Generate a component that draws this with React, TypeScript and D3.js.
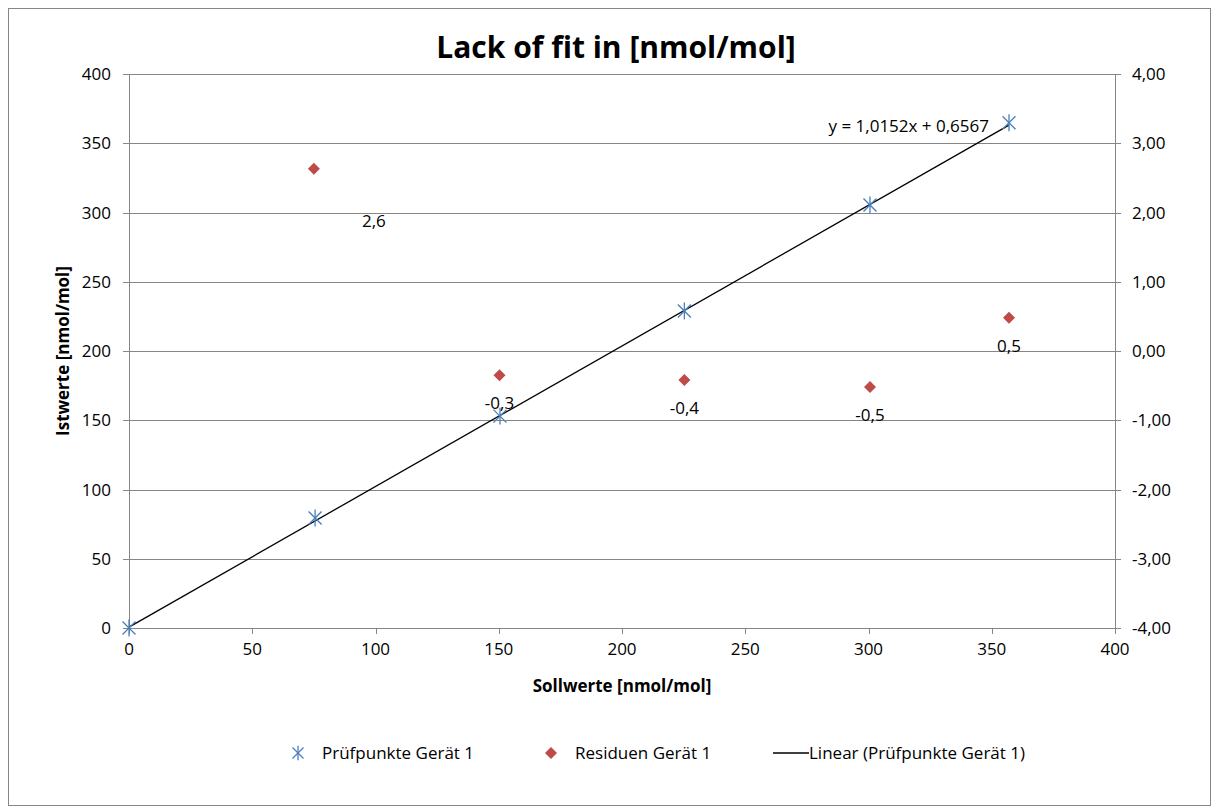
import React from "react";
import * as d3 from "d3";

const pointsX = [0, 75.5, 150.5, 225.3, 300.6, 357];
const pointsY = [0, 79.4, 153, 228.9, 305.4, 364.8];
const residX = [75, 150.3, 225.3, 300.6, 357];
const residY = [2.63, -0.35, -0.42, -0.52, 0.48];
const residLabels = ["2,6", "-0,3", "-0,4", "-0,5", "0,5"];
const leftTicks = [0, 50, 100, 150, 200, 250, 300, 350, 400];
const rightTicks = [-4, -3, -2, -1, 0, 1, 2, 3, 4];
const xTicks = [0, 50, 100, 150, 200, 250, 300, 350, 400];
const slope = 1.0152;
const intercept = 0.6567;

const W = 1212, H = 807;
const FONT = "'Open Sans', 'Liberation Sans', sans-serif";
const GRID = "#868686";
const BLUE = "#4A7EBB";
const RED = "#BE4B48";
const FS = 17;

export default function App() {
  const x = d3.scaleLinear().domain([0, 400]).range([129, 1115]);
  const yL = d3.scaleLinear().domain([0, 400]).range([628, 74]);
  const yR = d3.scaleLinear().domain([-4, 4]).range([628, 74]);
  const fmtR = (v: number) => v.toFixed(2).replace(".", ",");
  const line = d3.line<number>().x((d) => x(d)).y((d) => yL(slope * d + intercept));
  const trendXs = [0, d3.max(pointsX) as number];
  const labelOffsets: [number, number][] = [[60, 58], [0, 34], [0, 34], [0, 34], [0, 34]];

  const star = (cx: number, cy: number, s: number, key: string) => (
    <g key={key} stroke={BLUE} strokeWidth={1.3}>
      <line x1={cx - s} y1={cy - s} x2={cx + s} y2={cy + s} />
      <line x1={cx - s} y1={cy + s} x2={cx + s} y2={cy - s} />
      <line x1={cx} y1={cy - s * 1.3} x2={cx} y2={cy + s * 1.3} />
    </g>
  );
  const diamond = (cx: number, cy: number, s: number, key: string) => (
    <path key={key} d={`M${cx},${cy - s}L${cx + s},${cy}L${cx},${cy + s}L${cx - s},${cy}Z`} fill={RED} />
  );

  return (
    <svg width={W} height={H} style={{ position: "absolute", left: 0, top: 0 }} fontFamily={FONT}>
      <rect x={0} y={0} width={W} height={H} fill="#fff" />
      <rect x={8.5} y={8.5} width={1202} height={797} fill="none" stroke={GRID} strokeWidth={1} />
      <text x={616} y={58} textAnchor="middle" fontSize={30} fontWeight="bold" fill="#000">
        Lack of fit in [nmol/mol]
      </text>
      {leftTicks.map((t) => (
        <line key={"g" + t} x1={x(0)} x2={x(400)} y1={Math.round(yL(t)) + 0.5} y2={Math.round(yL(t)) + 0.5} stroke={GRID} />
      ))}
      <line x1={Math.round(x(0)) + 0.5} x2={Math.round(x(0)) + 0.5} y1={yL(400)} y2={yL(0)} stroke={GRID} />
      <line x1={Math.round(x(400)) + 0.5} x2={Math.round(x(400)) + 0.5} y1={yL(400)} y2={yL(0)} stroke={GRID} />
      {leftTicks.map((t) => (
        <g key={"l" + t}>
          <line x1={x(0) - 6} x2={x(0)} y1={Math.round(yL(t)) + 0.5} y2={Math.round(yL(t)) + 0.5} stroke={GRID} />
          <text x={111} y={yL(t) + 6} textAnchor="end" fontSize={FS} fill="#000">{t}</text>
        </g>
      ))}
      {rightTicks.map((t) => (
        <g key={"r" + t}>
          <line x1={x(400)} x2={x(400) + 6} y1={Math.round(yR(t)) + 0.5} y2={Math.round(yR(t)) + 0.5} stroke={GRID} />
          <text x={1132} y={yR(t) + 6} textAnchor="start" fontSize={FS} fill="#000">{fmtR(t)}</text>
        </g>
      ))}
      {xTicks.map((t) => (
        <g key={"x" + t}>
          <line x1={Math.round(x(t)) + 0.5} x2={Math.round(x(t)) + 0.5} y1={yL(0)} y2={yL(0) + 6} stroke={GRID} />
          <text x={x(t)} y={655} textAnchor="middle" fontSize={FS} fill="#000">{t}</text>
        </g>
      ))}
      <text transform={`translate(69,351) rotate(-90)`} textAnchor="middle" fontSize={FS} fontWeight="bold" fill="#000">
        Istwerte [nmol/mol]
      </text>
      <text x={622} y={692} textAnchor="middle" fontSize={FS} fontWeight="bold" fill="#000">
        Sollwerte [nmol/mol]
      </text>
      <path d={line(trendXs) || ""} fill="none" stroke="#000" strokeWidth={1.3} />
      <text x={989} y={132} textAnchor="end" fontSize={FS} fill="#000">y = 1,0152x + 0,6567</text>
      {pointsX.map((v, i) => star(x(v), yL(pointsY[i]), 6.5, "p" + i))}
      {residX.map((v, i) => diamond(x(v), yR(residY[i]), 6, "d" + i))}
      {residX.map((v, i) => (
        <text key={"t" + i} x={x(v) + labelOffsets[i][0]} y={yR(residY[i]) + labelOffsets[i][1]} textAnchor="middle" fontSize={FS} fill="#000">
          {residLabels[i]}
        </text>
      ))}
      {star(298, 753, 5.5, "ls")}
      <text x={322} y={759} fontSize={FS} fill="#000">Prüfpunkte Gerät 1</text>
      {diamond(551, 753, 6, "ld")}
      <text x={575} y={759} fontSize={FS} fill="#000">Residuen Gerät 1</text>
      <line x1={773} x2={809} y1={753} y2={753} stroke="#000" strokeWidth={1.3} />
      <text x={809} y={759} fontSize={FS} fill="#000">Linear (Prüfpunkte Gerät 1)</text>
    </svg>
  );
}
